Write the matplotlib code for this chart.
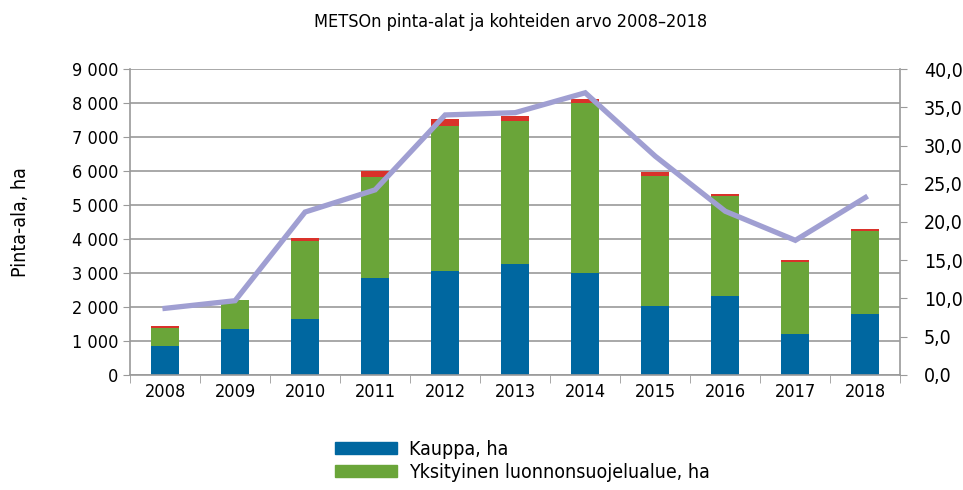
import numpy as np
import matplotlib.pyplot as plt
from matplotlib.patches import Patch

years = ["2008", "2009", "2010", "2011", "2012", "2013", "2014", "2015", "2016", "2017", "2018"]
kauppa = [860, 1360, 1640, 2840, 3070, 3250, 3010, 2030, 2320, 1200, 1780]
yksityinen = [510, 840, 2310, 2970, 4250, 4230, 4980, 3820, 2930, 2110, 2460]
muu = [70, 0, 90, 200, 200, 140, 120, 130, 70, 60, 60]
arvo = [8.7, 9.7, 21.3, 24.2, 34.0, 34.3, 36.9, 28.6, 21.4, 17.6, 23.2]

plt.rcParams['font.family'] = ['DejaVu Sans']
plt.rcParams['font.stretch'] = 'condensed'

blue = "#0067a0"
green = "#6aa539"
red = "#d9322a"
lilac = "#a09fd2"
grid = "#9a9a9a"

fig = plt.figure(figsize=(9.63, 4.9), dpi=100)
ax = fig.add_axes([0.135, 0.235, 0.8, 0.624])
x = np.arange(len(years))
w = 0.4

# pinotut pylväät
b1 = np.array(kauppa)
b2 = b1 + np.array(yksityinen)
ax.bar(x, kauppa, w, color=blue, zorder=2)
ax.bar(x, yksityinen, w, bottom=b1, color=green, zorder=2)
ax.bar(x, muu, w, bottom=b2, color=red, zorder=2)

ax.set_xlim(-0.5, len(years) - 0.5)
ax.set_ylim(0, 9000)
ax.set_yticks(range(0, 9001, 1000))
ax.set_yticklabels([f"{v:,}".replace(",", " ") for v in range(0, 9001, 1000)], fontsize=13)
ax.set_xticks(x)
ax.set_xticklabels(years, fontsize=13)
ax.set_xticks(np.arange(-0.5, len(years), 1), minor=True)
ax.tick_params(axis='x', which='major', length=0, pad=6)
ax.tick_params(axis='x', which='minor', length=6, color=grid)
ax.tick_params(axis='y', length=5, color=grid)
ax.yaxis.grid(True, color=grid, linewidth=1.2, zorder=0)
ax.set_axisbelow(True)
for s in ["top", "right"]:
    ax.spines[s].set_visible(False)
for s in ["left", "bottom"]:
    ax.spines[s].set_color(grid)
    ax.spines[s].set_linewidth(1.2)
ax.set_ylabel("Pinta-ala, ha", fontsize=14, labelpad=30)

# kohteiden arvo oikealle akselille
ax2 = ax.twinx()
ax2.plot(x, arvo, color=lilac, linewidth=3.8, solid_joinstyle='miter', zorder=3)
ax2.set_ylim(0, 40)
ax2.set_yticks(np.arange(0, 41, 5))
ax2.set_yticklabels([f"{v:.1f}".replace(".", ",") for v in np.arange(0, 41, 5)], fontsize=14)
ax2.tick_params(axis='y', length=5, color=grid, pad=12)
for s in ["top", "left", "bottom"]:
    ax2.spines[s].set_visible(False)
ax2.spines["right"].set_color(grid)
ax2.spines["right"].set_linewidth(1.2)

fig.text(0.53, 0.955, "METSOn pinta-alat ja kohteiden arvo 2008\u20132018", ha='center', va='center', fontsize=13)

handles = [Patch(color=blue, label="Kauppa, ha"), Patch(color=green, label="Yksityinen luonnonsuojelualue, ha")]
fig.legend(handles=handles, loc='upper left', bbox_to_anchor=(0.338, 0.122), frameon=False, fontsize=14,
           handlelength=3.2, handleheight=0.6, labelspacing=0.2, borderpad=0, handletextpad=0.6)

fig.savefig("out.png", dpi=100)
